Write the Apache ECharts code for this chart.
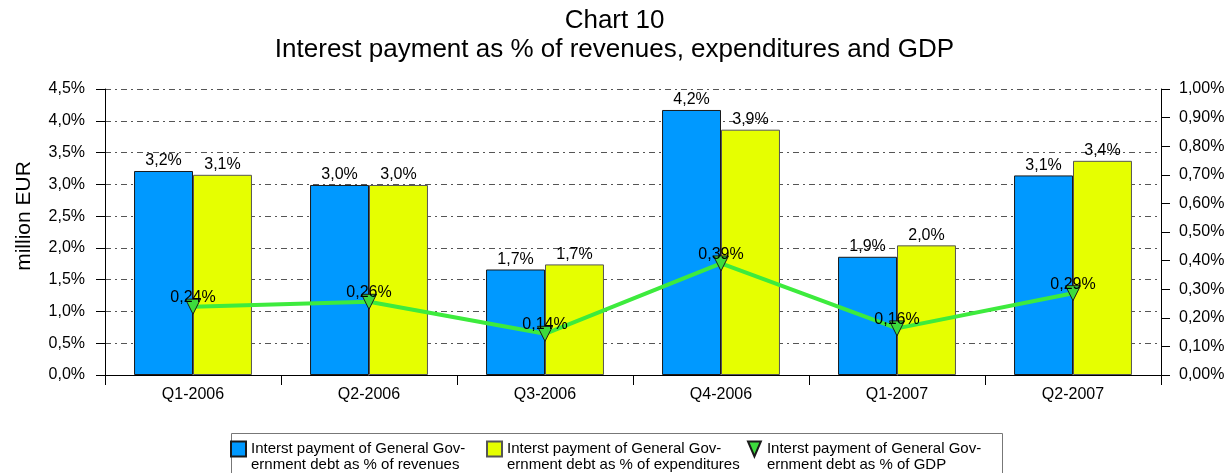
<!DOCTYPE html>
<html>
<head>
<meta charset="utf-8">
<script src="https://cdn.jsdelivr.net/npm/echarts@6/dist/echarts.min.js"></script>
<style>
  html, body { margin: 0; padding: 0; background: #fff; }
  #main { width: 1229px; height: 473px; }
</style>
</head>
<body>
<div id="main"></div>
<script>
const categories = ['Q1-2006', 'Q2-2006', 'Q3-2006', 'Q4-2006', 'Q1-2007', 'Q2-2007'];
const pctRevenues = [3.21, 2.99, 1.66, 4.17, 1.86, 3.14];
const pctExpenditures = [3.15, 2.99, 1.74, 3.86, 2.04, 3.37];
const pctGdp = [0.239, 0.256, 0.144, 0.39, 0.163, 0.286];

const seriesNames = [
  'Interst payment of General Gov-\nernment debt as % of revenues',
  'Interst payment of General Gov-\nernment debt as % of expenditures',
  'Interst payment of General Gov-\nernment debt as % of GDP',
];

const font = 'Liberation Sans, Arial, sans-serif';
const comma = (v, d) => v.toFixed(d).replace('.', ',') + '%';

const myChart = echarts.init(document.getElementById('main'));

const barLabel = {
  show: true,
  position: 'top',
  distance: 2,
  color: '#000',
  fontFamily: font,
  fontSize: 16,
  formatter: (p) => comma(p.value, 1),
};

// one legend per item so the spacing follows the original box
const legendLefts = [230, 486, 747];
const legendIcons = ['rect', 'rect', 'path://M0,0 L12,0 L6,14 Z'];
const legends = seriesNames.map((name, i) => ({
  left: legendLefts[i],
  top: 425,
  padding: 0,
  itemWidth: 15,
  itemHeight: 15,
  // empty first line puts the icon next to the first text line
  formatter: (n) => '\n' + n,
  textStyle: {
    fontFamily: font,
    fontSize: 15,
    color: '#000',
    lineHeight: 16,
  },
  data: [{ name: name, icon: legendIcons[i] }],
}));

const option = {
  backgroundColor: '#fff',
  animation: false,
  title: {
    text: 'Chart 10\nInterest payment as % of revenues, expenditures and GDP',
    left: 'center',
    top: 1,
    textStyle: {
      fontFamily: font,
      fontSize: 26,
      fontWeight: 'normal',
      color: '#000',
      lineHeight: 29,
    },
  },
  graphic: [
    {
      type: 'rect',
      left: 229,
      top: 431,
      shape: { width: 771, height: 60 },
      style: { fill: 'none', stroke: '#777', lineWidth: 1 },
      silent: true,
    },
  ],
  grid: { left: 105, right: 68, top: 89, bottom: 98, outerBoundsMode: 'none' },
  legend: legends,
  xAxis: {
    type: 'category',
    data: categories,
    axisLine: { lineStyle: { color: '#000', width: 1 } },
    axisTick: { show: true, length: 10, lineStyle: { color: '#000' } },
    axisLabel: { color: '#000', fontFamily: font, fontSize: 16, margin: 12 },
  },
  yAxis: [
    {
      type: 'value',
      min: 0,
      max: 4.5,
      interval: 0.5,
      name: 'million EUR',
      nameLocation: 'middle',
      nameGap: 70,
      nameTextStyle: {
        fontFamily: font,
        fontSize: 21,
        color: '#000',
        padding: [0, 0, 0, 32],
      },
      axisLine: { show: true, lineStyle: { color: '#000' } },
      axisTick: { show: true, length: 9, lineStyle: { color: '#000' } },
      axisLabel: {
        color: '#000',
        fontFamily: font,
        fontSize: 16,
        margin: 20,
        formatter: (v) => comma(v, 1),
      },
      splitLine: {
        show: true,
        lineStyle: { color: '#555', type: [6, 4, 2, 4], width: 1 },
      },
    },
    {
      type: 'value',
      min: 0,
      max: 1,
      interval: 0.1,
      axisLine: { show: true, lineStyle: { color: '#000' } },
      axisTick: { show: true, length: 9, lineStyle: { color: '#000' } },
      axisLabel: {
        color: '#000',
        fontFamily: font,
        fontSize: 16,
        margin: 18,
        formatter: (v) => comma(v, 2),
      },
      splitLine: { show: false },
    },
  ],
  series: [
    {
      name: seriesNames[0],
      type: 'bar',
      data: pctRevenues,
      barGap: '0%',
      barCategoryGap: '33%',
      itemStyle: { color: '#0099FF', borderColor: '#1a1a1a', borderWidth: 1 },
      label: barLabel,
    },
    {
      name: seriesNames[1],
      type: 'bar',
      data: pctExpenditures,
      itemStyle: { color: '#E6FF00', borderColor: '#555', borderWidth: 1 },
      label: barLabel,
    },
    {
      name: seriesNames[2],
      type: 'line',
      yAxisIndex: 1,
      data: pctGdp,
      symbol: 'triangle',
      symbolRotate: 180,
      symbolSize: [15, 15],
      lineStyle: { color: '#3DEB3D', width: 4 },
      itemStyle: { color: '#3DDB3D', borderColor: '#1a1a1a', borderWidth: 1 },
      label: {
        show: true,
        position: 'inside',
        offset: [0, -9],
        color: '#000',
        fontFamily: font,
        fontSize: 16,
        formatter: (p) => comma(p.value, 2),
      },
      z: 5,
    },
  ],
};

myChart.setOption(option);
</script>
</body>
</html>
